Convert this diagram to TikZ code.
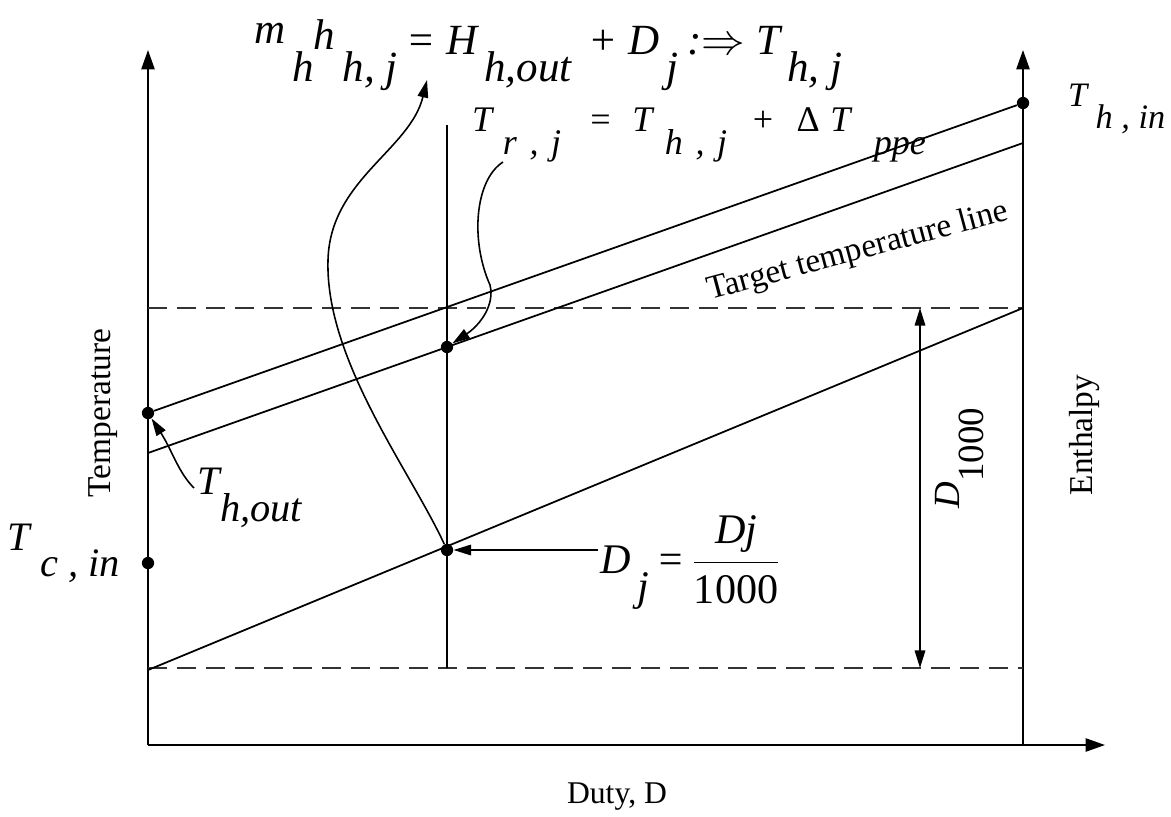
\documentclass[tikz,border=0pt]{standalone}
\usepackage{fontspec}
\setmainfont{Liberation Serif}
\usetikzlibrary{arrows.meta}

\newcommand{\lowsub}[1]{\raisebox{-0.65em}{#1}}
\newcommand{\gp}[1]{\hspace{#1em}}

\begin{document}
\begin{tikzpicture}[x=0.02cm, y=-0.02cm,
    axis/.style={line width=1.1pt, -{Triangle[length=11pt, width=7.5pt]}},
    curve/.style={line width=1pt},
    guide/.style={line width=1.3pt, black!80, dash pattern=on 11pt off 5.5pt},
    pointer/.style={line width=0.9pt, -{Triangle[length=10pt, width=6pt]}},
    dot/.style={circle, fill, inner sep=0pt, minimum size=7pt},
    lbl/.style={inner sep=1pt, font=\fontsize{19}{21}\selectfont},
    eq/.style={inner sep=1pt, font=\fontsize{20.5}{22}\selectfont\itshape}
]
\useasboundingbox (0,0) rectangle (1171,816);

% Axes
\coordinate (O)    at (148,745);
\coordinate (ytop) at (148,50);
\coordinate (xend) at (1105,745);
\coordinate (rbot) at (1023,745);
\coordinate (rtop) at (1023,50);
\draw[axis] (O) -- (ytop);
\draw[axis] (O) -- (xend);
\draw[axis] (rbot) -- (rtop);

% Dashed limits
\coordinate (lowL) at (148,668);
\coordinate (lowR) at (1023,668);
\coordinate (hiL)  at (148,308);
\coordinate (hiR)  at (1023,308);
\draw[guide] (lowL) -- (lowR);
\draw[guide] (hiL) -- (hiR);

% Hot stream and target temperature line
\node[dot] (thout) at (148,413) {};
\node[dot] (thin)  at (1023,103) {};
\node[dot] (tcin)  at (148,563) {};
\coordinate (tgtL) at (148,453);
\coordinate (tgtR) at (1023,143);
\draw[curve] (thout) -- (thin);
\draw[curve] (tgtL) -- (tgtR);

% Cold duty line
\coordinate (dutyL) at (148,670);
\draw[curve] (dutyL) -- (hiR);

% Interval j
\coordinate (vtop) at (447,125);
\coordinate (vbot) at (447,668);
\draw[curve] (vtop) -- (vbot);
\node[dot] (trj) at (447,347) {};
\node[dot] (dj)  at (447,550) {};

% D_1000 span
\coordinate (dtop) at (920,308);
\coordinate (dbot) at (920,668);
\draw[pointer, {Triangle[length=10pt, width=6pt]}-{Triangle[length=10pt, width=6pt]}] (dtop) -- (dbot);

% Labels
\node[eq, font=\fontsize{24.5}{26}\selectfont\itshape, anchor=base west] (eqtop) at (252,54)
  {\raisebox{0.25em}{m}\,\lowsub{h}\raisebox{0.1em}{h}\,\lowsub{h, j}\gp{0.2}= H\,\lowsub{h,out}\gp{0.4}+ D\,\lowsub{j}\gp{0.2}:$\Rightarrow$ T\,\lowsub{h, j}};
\node[eq, anchor=base west] (eqtr) at (470,131)
  {T\gp{0.3}\lowsub{r\gp{0.35},\gp{0.35}j}\gp{0.75}=\gp{0.55}T\gp{0.35}\lowsub{h\gp{0.35},\gp{0.35}j}\gp{0.65}+\gp{0.6}{\upshape Δ}\gp{0.3}T\gp{0.65}\lowsub{ppe}};
\node[lbl, rotate=15] (tgtlbl) at (858,252) {Target temperature line};
\node[eq, font=\fontsize{19.5}{21}\selectfont\itshape, anchor=west] (thinlbl) at (1066,109) {T\ \lowsub{h , in}};
\node[eq, font=\fontsize{23}{25}\selectfont\itshape] (tcinlbl) at (64,553) {T\ \lowsub{c , in}};
\node[eq, font=\fontsize{23}{25}\selectfont\itshape] (thoutlbl) at (250,498) {T\lowsub{h,out}};
\node[eq, font=\fontsize{24}{26}\selectfont\itshape, anchor=west] (djlbl) at (598,563)
  {D\,\lowsub{j}\,=\,$\displaystyle\frac{\mbox{\itshape Dj}}{\mbox{\upshape 1000}}$};
\node[eq, font=\fontsize{21}{23}\selectfont\itshape, rotate=90] (dklbl) at (960,458) {D\lowsub{\upshape 1000}};
\node[lbl, rotate=90] (templbl) at (103,413) {Temperature};
\node[lbl, rotate=90] (enthlbl) at (1085,435) {Enthalpy};
\node[lbl, font=\fontsize{18}{20}\selectfont] (dutylbl) at (617,797) {Duty, D};

% Pointers
\coordinate (eqtip) at (427,80);
\coordinate (trstart) at (503,162);
\coordinate (thstart) at (194,488);
\draw[pointer] (djlbl.west |- dj) -- (dj.east);
\draw[pointer] (dj) .. controls (410,470) and (325,360) .. (328,260)
  .. controls (330,180) and (410,150) .. (eqtip);
\draw[pointer] (trstart) .. controls (475,180) and (470,240) .. (490,285)
  .. controls (495,305) and (480,325) .. (trj);
\draw[pointer] (thstart) .. controls (178,472) and (172,450) .. (thout);
\end{tikzpicture}
\end{document}
